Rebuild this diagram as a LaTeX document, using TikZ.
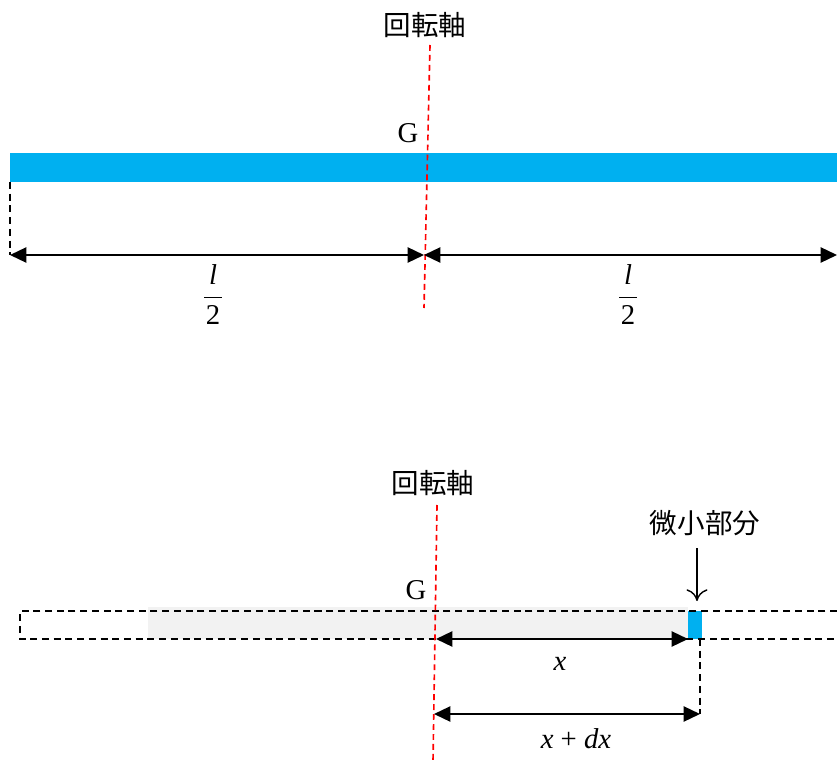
\documentclass[tikz,border=0pt]{standalone}
\usepackage{amsmath}
\usepackage{fontspec}
\setmainfont{Liberation Serif}
\newfontfamily\jpfont{Noto Sans CJK JP}
\usepackage{tikz}
\usetikzlibrary{arrows.meta, positioning}
\usepackage{xcolor}
\definecolor{rodblue}{HTML}{00B0F0}
\definecolor{rodgray}{HTML}{F2F2F2}

\begin{document}
\begin{tikzpicture}[x=0.03cm, y=-0.03cm,
  axisline/.style={draw=red, line width=1.4pt, dash pattern=on 5pt off 3.5pt},
  guide/.style={draw=black, line width=1.4pt, dash pattern=on 6pt off 4pt},
  dim/.style={line width=1.6pt, {Triangle[length=14pt,width=13pt]}-{Triangle[length=14pt,width=13pt]}},
  lbl/.style={font=\fontsize{24.5}{29}\selectfont, inner sep=1pt},
  jlbl/.style={font=\fontsize{23.5}{28}\selectfont\jpfont, inner sep=1pt}
]
  \useasboundingbox (0,0) rectangle (837,762);

  % upper: whole rod
  \fill[rodblue] (10,153) rectangle (837,182);
  \node[jlbl] (axisA) at (425,25) {回転軸};
  \coordinate (axisAtop) at (430,45);
  \coordinate (axisAbot) at (424,308);
  \draw[axisline] (axisAtop) -- (axisAbot);
  \node[lbl] (gA) at (408,133) {G};
  \coordinate (rodL) at (10,182);
  \coordinate (dimL) at (10,255);
  \coordinate (dimC) at (424,255);
  \coordinate (dimR) at (837,255);
  \draw[guide] (rodL) -- (dimL);
  \draw[dim] (dimL) -- (dimC);
  \draw[dim] (dimC) -- (dimR);
  \node[lbl] (halfL) at (213,297) {$\dfrac{\,\textit{l}\,}{\textrm{2}\rule[-4pt]{0pt}{20pt}}$};
  \node[lbl] (halfR) at (628,297) {$\dfrac{\,\textit{l}\,}{\textrm{2}\rule[-4pt]{0pt}{20pt}}$};

  % lower: small piece
  \fill[rodgray] (148,607) rectangle (688,639);
  \fill[rodblue] (688,611) rectangle (702,639);
  \draw[guide] (837,611) -- (20,611) -- (20,639) -- (837,639);
  \node[jlbl] (axisB) at (433,483) {回転軸};
  \coordinate (axisBtop) at (437,505);
  \coordinate (axisBbot) at (433,762);
  \draw[axisline] (axisBtop) -- (axisBbot);
  \node[lbl] (gB) at (416,590) {G};
  \node[jlbl] (piece) at (705,523) {微小部分};
  \coordinate (pieceTop) at (697,601);
  \coordinate (pieceTail) at (697,548);
  \draw[line width=1.2pt, -{To[length=10pt,width=18pt]}] (pieceTail) -- (pieceTop);
  \coordinate (xL) at (436,639);
  \coordinate (xR) at (688,639);
  \draw[dim] (xL) -- (xR);
  \node[lbl] (xlbl) at (560,664) {\textit{x}};
  \coordinate (dxTop) at (700,639);
  \coordinate (dxR) at (700,714);
  \coordinate (dxL) at (434,714);
  \draw[guide] (dxTop) -- (dxR);
  \draw[dim] (dxL) -- (dxR);
  \node[lbl] (dxlbl) at (576,739) {\textit{x} + \textit{dx}};
\end{tikzpicture}
\end{document}
